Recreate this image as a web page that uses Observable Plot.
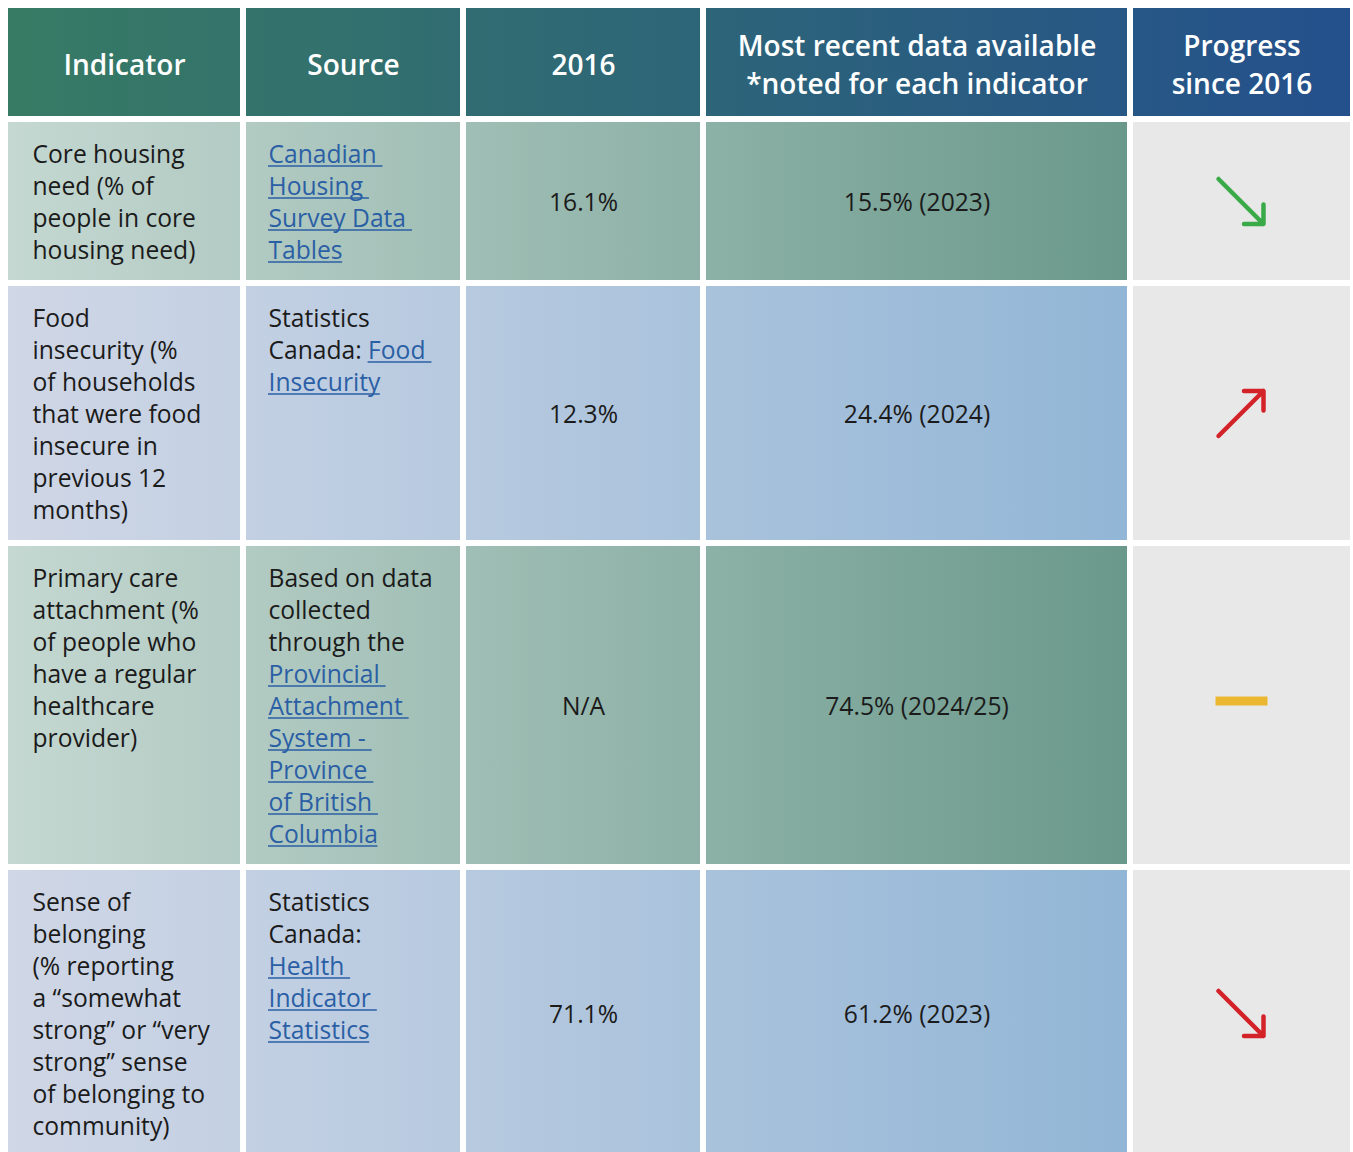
<!DOCTYPE html>
<html>
<head>
<meta charset="utf-8">
<script src="https://cdn.jsdelivr.net/npm/d3@7"></script>
<script src="https://cdn.jsdelivr.net/npm/@observablehq/plot@0.6"></script>
<style>html,body{margin:0;padding:0;background:#fff}</style>
</head>
<body>
<div id="chart"></div>
<script>
// ---------------- DATA ----------------
const headers = [
  "Indicator",
  "Source",
  "2016",
  "Most recent data available\n*noted for each indicator",
  "Progress\nsince 2016"
];
const indicators = [
  "Core housing\nneed (% of\npeople in core\nhousing need)",
  "Food\ninsecurity (%\nof households\nthat were food\ninsecure in\nprevious 12\nmonths)",
  "Primary care\nattachment (%\nof people who\nhave a regular\nhealthcare\nprovider)",
  "Sense of\nbelonging\n(% reporting\na “somewhat\nstrong” or “very\nstrong” sense\nof belonging to\ncommunity)"
];
// [text] marks a hyperlink segment
const sources = [
  "[Canadian ]\n[Housing ]\n[Survey Data ]\n[Tables]",
  "Statistics\nCanada: [Food ]\n[Insecurity]",
  "Based on data\ncollected\nthrough the\n[Provincial ]\n[Attachment ]\n[System - ]\n[Province ]\n[of British ]\n[Columbia]",
  "Statistics\nCanada:\n[Health ]\n[Indicator ]\n[Statistics]"
];
const values2016 = ["16.1%", "12.3%", "N/A", "71.1%"];
const recentValues = ["15.5% (2023)", "24.4% (2024)", "74.5% (2024/25)", "61.2% (2023)"];
const trend = ["down", "up", "flat", "down"];
const assessment = ["good", "bad", "neutral", "bad"];

// ---------------- LAYOUT ----------------
const W = 1353, H = 1152;
const colWidths = [232, 214, 234, 421, 217];
const gapPx = 6, leftX = 8, topY = 8, headerH = 108, pitch = 32, rowPad = 30;
const FONT = "Open Sans";
const textColor = "#1b1b1b", linkColor = "#2b5fa5";
const statusColor = {good: "#3aaa49", bad: "#d42229", neutral: "#ebb731"};

(async function () {
  try {
    await document.fonts.load(`24px "${FONT}"`);
    await document.fonts.load(`600 24px "${FONT}"`);
  } catch (e) {}
  const ctx = document.createElement("canvas").getContext("2d");
  const measure = (t, size, weight = 400) => {
    ctx.font = `${weight} ${size}px "${FONT}"`;
    return ctx.measureText(t).width;
  };
  // fit font sizes to the reference text widths
  const bodySize = 100 * 298 / (measure("Primary care", 100) + measure("Core housing", 100));
  const headSize = 100 * 481 / (measure("Most recent data available", 100, 600) + measure("Indicator", 100, 600));

  const colX = [];
  let cx = leftX;
  for (const w of colWidths) { colX.push(cx); cx += w + gapPx; }
  const colR = colX.map((x, i) => x + colWidths[i]);
  const colC = colX.map((x, i) => x + colWidths[i] / 2);

  const parseLines = s => s.split("\n").map(line => {
    const segs = [];
    const re = /\[([^\]]*)\]|([^\[]+)/g;
    let m;
    while ((m = re.exec(line))) segs.push(m[1] !== undefined ? {text: m[1], link: true} : {text: m[2], link: false});
    return segs;
  });

  // rows
  const rows = [];
  let yy = topY + headerH + gapPx;
  indicators.forEach((ind, r) => {
    const indLines = ind.split("\n");
    const srcLines = parseLines(sources[r]);
    const n = Math.max(indLines.length, srcLines.length);
    const h = n * pitch + rowPad;
    rows.push({r, y1: yy, y2: yy + h, indLines, srcLines});
    yy += h + gapPx;
  });

  // cells
  const headerCells = headers.map((h, c) => ({x1: colX[c], x2: colR[c], y1: topY, y2: topY + headerH}));
  const greenCells = [], blueCells = [], greyCells = [];
  rows.forEach(row => {
    for (let c = 0; c < 5; c++) {
      const cell = {x1: colX[c], x2: colR[c], y1: row.y1, y2: row.y2};
      if (c === 4) greyCells.push(cell);
      else (row.r % 2 === 0 ? greenCells : blueCells).push(cell);
    }
  });

  // header text
  const headerText = [];
  headers.forEach((h, c) => {
    const ls = h.split("\n");
    const base = topY + headerH / 2 + 4;
    ls.forEach((t, i) => headerText.push({text: t, x: colC[c], y: base + (i - (ls.length - 1) / 2) * 38}));
  });

  // indicator text
  const indText = [];
  rows.forEach(row => row.indLines.forEach((t, i) => indText.push({text: t, x: colX[0] + 24, y: row.y1 + 33 + i * pitch})));

  // source text
  const srcText = [], underlines = [];
  rows.forEach(row => row.srcLines.forEach((segs, i) => {
    let x = colX[1] + 22;
    const ly = row.y1 + 33 + i * pitch;
    segs.forEach(s => {
      const w = measure(s.text, bodySize);
      srcText.push({text: s.text.trimEnd(), x, y: ly, link: s.link});
      if (s.link) underlines.push({x1: x, x2: x + w, y: ly + 10.5});
      x += w;
    });
  }));

  // values
  const valText = [];
  rows.forEach(row => {
    const yc = (row.y1 + row.y2) / 2 + 2;
    valText.push({text: values2016[row.r], x: colC[2], y: yc});
    valText.push({text: recentValues[row.r], x: colC[3], y: yc});
  });

  // progress symbols
  const arrows = [], bars = [];
  const half = 22.5;
  rows.forEach(row => {
    const xc = colC[4] - 1, yc = (row.y1 + row.y2) / 2;
    const t = trend[row.r], col = statusColor[assessment[row.r]];
    if (t === "down") arrows.push({x1: xc - half, y1: yc - half, x2: xc + half, y2: yc + half, color: col});
    else if (t === "up") arrows.push({x1: xc - half, y1: yc + half, x2: xc + half, y2: yc - half, color: col});
    else bars.push({x1: xc - 25, x2: xc + 27, y1: yc - 8.5, y2: yc + 0.5, color: col});
  });

  const bodyLeft = colX[0], bodyRight = colR[3];
  const defs = () => {
    const g = d3.create("svg:defs");
    const add = (id, x1, x2, c1, c2) => {
      const lg = g.append("linearGradient").attr("id", id)
        .attr("gradientUnits", "userSpaceOnUse")
        .attr("x1", x1).attr("x2", x2).attr("y1", 0).attr("y2", 0);
      lg.append("stop").attr("offset", 0).attr("stop-color", c1);
      lg.append("stop").attr("offset", 1).attr("stop-color", c2);
    };
    add("gHead", bodyLeft, colR[4], "#377b64", "#24508c");
    add("gGreen", bodyLeft, bodyRight, "#c5d8d2", "#6a998b");
    add("gBlue", bodyLeft, bodyRight, "#d0d7e6", "#92b6d6");
    return g.node();
  };

  const textOpts = {x: "x", y: "y", text: "text", fontFamily: FONT, lineAnchor: "middle"};

  const plot = Plot.plot({
    width: W,
    height: H,
    margin: 0,
    x: {type: "identity", axis: null},
    y: {type: "identity", axis: null},
    style: {background: "white"},
    marks: [
      defs,
      Plot.rect(headerCells, {x1: "x1", x2: "x2", y1: "y1", y2: "y2", fill: "url(#gHead)"}),
      Plot.rect(greenCells, {x1: "x1", x2: "x2", y1: "y1", y2: "y2", fill: "url(#gGreen)"}),
      Plot.rect(blueCells, {x1: "x1", x2: "x2", y1: "y1", y2: "y2", fill: "url(#gBlue)"}),
      Plot.rect(greyCells, {x1: "x1", x2: "x2", y1: "y1", y2: "y2", fill: "#e8e8e8"}),
      Plot.text(headerText, {...textOpts, textAnchor: "middle", fill: "white", fontSize: headSize, fontWeight: 600}),
      Plot.text(indText, {...textOpts, textAnchor: "start", fill: textColor, fontSize: bodySize}),
      Plot.text(srcText, {...textOpts, textAnchor: "start", fill: d => d.link ? linkColor : textColor, fontSize: bodySize}),
      Plot.ruleY(underlines, {y: "y", x1: "x1", x2: "x2", stroke: linkColor, strokeWidth: 1.5}),
      Plot.text(valText, {...textOpts, textAnchor: "middle", fill: textColor, fontSize: bodySize}),
      Plot.arrow(arrows, {x1: "x1", y1: "y1", x2: "x2", y2: "y2", stroke: "color", strokeWidth: 4.5, headAngle: 90, headLength: 6.5}),
      Plot.rect(bars, {x1: "x1", x2: "x2", y1: "y1", y2: "y2", fill: "color"})
    ]
  });
  document.getElementById("chart").appendChild(plot);
})();
</script>
</body>
</html>
